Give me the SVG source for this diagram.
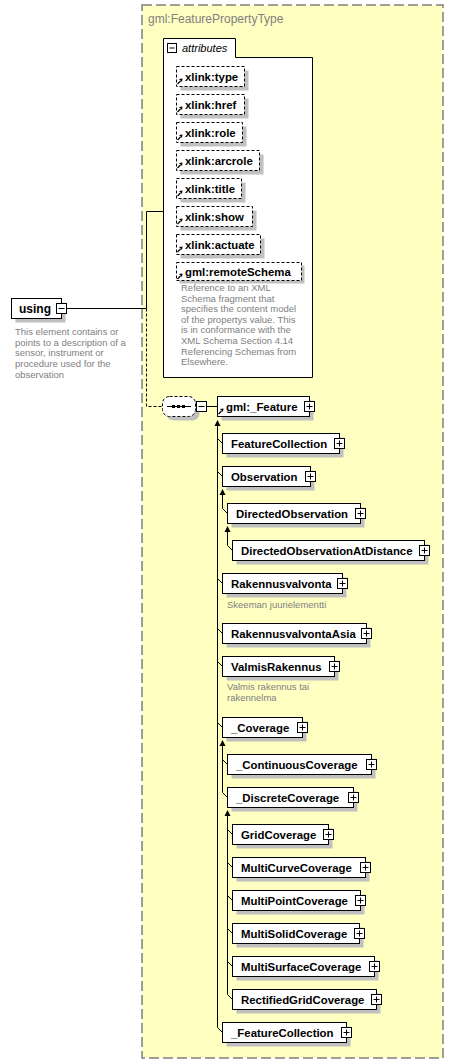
<svg xmlns="http://www.w3.org/2000/svg" xmlns:xlink="http://www.w3.org/1999/xlink" width="453" height="1064" viewBox="0 0 453 1064">
<style>
.node{fill:#fff;stroke:#000;stroke-width:1}
.attr{fill:#fff;stroke:#000;stroke-width:1;stroke-dasharray:3,2}
.shadow{fill:#c0c0c0}
.lbl{font-family:"Liberation Sans",Arial,sans-serif;font-size:11.4px;font-weight:bold;fill:#000}
.desc{font-family:"Liberation Sans",Arial,sans-serif;font-size:9.5px;fill:#808080}
.conn{stroke:#000;stroke-width:1;fill:none}
.dconn{stroke:#000;stroke-width:1;fill:none;stroke-dasharray:3,2}
</style>
<defs>
<g id="plus"><rect x="-5" y="-5" width="10" height="10" fill="#fff" stroke="#000"/><path d="M-3,0H3M0,-3V3" stroke="#000"/></g>
<g id="minus"><rect x="-5" y="-5" width="10" height="10" fill="#fff" stroke="#000"/><path d="M-3,0H3" stroke="#000"/></g>
<g id="ref"><path d="M0.5,5.5 L3.5,2.5" stroke="#000" stroke-width="1.2"/><path d="M2,0.5 L5.5,0 L5,3.5Z" fill="#000"/></g>
<path id="arr" d="M0,0 L3,6 L-3,6 Z" fill="#000"/>
</defs>

<g id="complexType">
<rect x="142" y="5" width="301" height="1053" fill="#FFFFC2" stroke="#808080" stroke-width="1.5" stroke-dasharray="10,4"/>
<text x="148" y="23" font-family="Liberation Sans,Arial,sans-serif" font-size="12" fill="#808080">gml:FeaturePropertyType</text>
</g>

<g id="attributes">
<path d="M163.5,38.5 H235.5 V57.5 H312.5 V377.5 H163.5 Z" fill="#fff" stroke="#000"/>
<rect x="167.5" y="43.5" width="9" height="9" fill="#fff" stroke="#000"/><path d="M169.5,48H174.5" stroke="#000"/>
<text x="182" y="52" font-family="Liberation Sans,Arial,sans-serif" font-size="11" font-style="italic" fill="#000">attributes</text>
</g>

<g id="attr-type"><rect class="shadow" x="180.5" y="70.5" width="68" height="20"/><rect class="attr" x="176.5" y="66.5" width="68" height="20"/><use href="#ref" x="177" y="78.5"/><text class="lbl" x="185" y="80.5">xlink:type</text></g>
<g id="attr-href"><rect class="shadow" x="180.5" y="98.5" width="68" height="20"/><rect class="attr" x="176.5" y="94.5" width="68" height="20"/><use href="#ref" x="177" y="106.5"/><text class="lbl" x="185" y="108.5">xlink:href</text></g>
<g id="attr-role"><rect class="shadow" x="180.5" y="126.5" width="66" height="20"/><rect class="attr" x="176.5" y="122.5" width="66" height="20"/><use href="#ref" x="177" y="134.5"/><text class="lbl" x="185" y="136.5">xlink:role</text></g>
<g id="attr-arcrole"><rect class="shadow" x="180.5" y="154.5" width="83" height="20"/><rect class="attr" x="176.5" y="150.5" width="83" height="20"/><use href="#ref" x="177" y="162.5"/><text class="lbl" x="185" y="164.5">xlink:arcrole</text></g>
<g id="attr-title"><rect class="shadow" x="180.5" y="182.5" width="65" height="20"/><rect class="attr" x="176.5" y="178.5" width="65" height="20"/><use href="#ref" x="177" y="190.5"/><text class="lbl" x="185" y="192.5">xlink:title</text></g>
<g id="attr-show"><rect class="shadow" x="180.5" y="210.5" width="76" height="20"/><rect class="attr" x="176.5" y="206.5" width="76" height="20"/><use href="#ref" x="177" y="218.5"/><text class="lbl" x="185" y="220.5">xlink:show</text></g>
<g id="attr-actuate"><rect class="shadow" x="180.5" y="238.5" width="84" height="20"/><rect class="attr" x="176.5" y="234.5" width="84" height="20"/><use href="#ref" x="177" y="246.5"/><text class="lbl" x="185" y="248.5">xlink:actuate</text></g>
<g id="attr-remoteSchema"><rect class="shadow" x="179.5" y="265.5" width="125" height="18"/><rect class="attr" x="176.5" y="262.5" width="125" height="18"/><use href="#ref" x="177" y="273.5"/><text class="lbl" x="185" y="276">gml:remoteSchema</text>
<text class="desc" x="181" y="291">Reference to an XML</text>
<text class="desc" x="181" y="301.6">Schema fragment that</text>
<text class="desc" x="181" y="312.2">specifies the content model</text>
<text class="desc" x="181" y="322.8">of the propertys value. This</text>
<text class="desc" x="181" y="333.4">is in conformance with the</text>
<text class="desc" x="181" y="344">XML Schema Section 4.14</text>
<text class="desc" x="181" y="354.6">Referencing Schemas from</text>
<text class="desc" x="181" y="365.2">Elsewhere.</text>
</g>

<g id="connectors">
<path class="conn" d="M66.5,308.5H146.5V211.5H163.5"/>
<path class="dconn" d="M146.5,308.5V406.5H162.5"/>
<path class="conn" d="M206.5,406.5H217.5"/>
<path class="conn" d="M217.5,424V1027.5L222.5,1032.5"/>
<use href="#arr" x="217.5" y="420"/>
<path class="conn" d="M217.5,438.5L222.5,443.5M217.5,471.5L222.5,476.5M217.5,578.5L222.5,583.5M217.5,628.5L222.5,633.5M217.5,661.5L222.5,666.5M217.5,722.5L222.5,727.5"/>
<path class="conn" d="M222.5,493V508.5L227.5,513.5"/>
<use href="#arr" x="222.5" y="489"/>
<path class="conn" d="M227.5,530V545.5L232.5,550.5"/>
<use href="#arr" x="227.5" y="526"/>
<path class="conn" d="M222.5,744V792.5L227.5,797.5M222.5,759.5L227.5,764.5"/>
<use href="#arr" x="222.5" y="740"/>
<path class="conn" d="M227.5,814V994.5L232.5,999.5M227.5,829.5L232.5,834.5M227.5,862.5L232.5,867.5M227.5,895.5L232.5,900.5M227.5,928.5L232.5,933.5M227.5,961.5L232.5,966.5"/>
<use href="#arr" x="227.5" y="810"/>
</g>

<g id="using">
<rect class="shadow" x="15.5" y="302.5" width="50" height="20"/>
<rect class="node" x="11.5" y="298.5" width="50" height="20"/>
<text class="lbl" x="19" y="312.5" style="font-size:12px">using</text>
<use href="#minus" x="61.5" y="308.5"/>
<text class="desc" x="15" y="335">This element contains or</text>
<text class="desc" x="15" y="345.7">points to a description of a</text>
<text class="desc" x="15" y="356.4">sensor, instrument or</text>
<text class="desc" x="15" y="367.1">procedure used for the</text>
<text class="desc" x="15" y="377.8">observation</text>
</g>

<g id="sequence">
<rect class="shadow" x="166.5" y="400.5" width="33" height="20" rx="7"/>
<rect x="162.5" y="396.5" width="33" height="20" rx="7" fill="#fff" stroke="#000" stroke-dasharray="3,2"/>
<path d="M167,406.5H191" stroke="#000"/>
<rect x="172" y="405" width="3" height="3" fill="#000"/><rect x="177" y="405" width="3" height="3" fill="#000"/><rect x="182" y="405" width="3" height="3" fill="#000"/>
<use href="#minus" x="201.5" y="406.5"/>
</g>

<g id="gml_Feature"><rect class="shadow" x="221.5" y="400.5" width="92" height="20"/><rect class="node" x="217.5" y="396.5" width="92" height="20"/><use href="#ref" x="218" y="408.5"/><text class="lbl" x="226" y="410.5">gml:_Feature</text><use href="#plus" x="309.5" y="406.5"/></g>
<g id="FeatureCollection"><rect class="shadow" x="226.5" y="437.5" width="117" height="20"/><rect class="node" x="222.5" y="433.5" width="117" height="20"/><text class="lbl" x="231" y="447.5">FeatureCollection</text><use href="#plus" x="339.5" y="443.5"/></g>
<g id="Observation"><rect class="shadow" x="226.5" y="470.5" width="88" height="20"/><rect class="node" x="222.5" y="466.5" width="88" height="20"/><text class="lbl" x="231" y="480.5">Observation</text><use href="#plus" x="310.5" y="476.5"/></g>
<g id="DirectedObservation"><rect class="shadow" x="231.5" y="507.5" width="133" height="20"/><rect class="node" x="227.5" y="503.5" width="133" height="20"/><text class="lbl" x="236" y="517.5">DirectedObservation</text><use href="#plus" x="360.5" y="513.5"/></g>
<g id="DirectedObservationAtDistance"><rect class="shadow" x="236.5" y="544.5" width="192" height="20"/><rect class="node" x="232.5" y="540.5" width="192" height="20"/><text class="lbl" x="241" y="554.5">DirectedObservationAtDistance</text><use href="#plus" x="424.5" y="550.5"/></g>
<g id="Rakennusvalvonta"><rect class="shadow" x="226.5" y="577.5" width="120" height="20"/><rect class="node" x="222.5" y="573.5" width="120" height="20"/><text class="lbl" x="231" y="587.5">Rakennusvalvonta</text><use href="#plus" x="342.5" y="583.5"/><text class="desc" x="227" y="608">Skeeman juurielementti</text></g>
<g id="RakennusvalvontaAsia"><rect class="shadow" x="226.5" y="627.5" width="144" height="20"/><rect class="node" x="222.5" y="623.5" width="144" height="20"/><text class="lbl" x="231" y="637.5">RakennusvalvontaAsia</text><use href="#plus" x="366.5" y="633.5"/></g>
<g id="ValmisRakennus"><rect class="shadow" x="226.5" y="660.5" width="112" height="20"/><rect class="node" x="222.5" y="656.5" width="112" height="20"/><text class="lbl" x="231" y="670.5">ValmisRakennus</text><use href="#plus" x="334.5" y="666.5"/><text class="desc" x="227" y="690">Valmis rakennus tai</text><text class="desc" x="227" y="700.7">rakennelma</text></g>
<g id="_Coverage"><rect class="shadow" x="226.5" y="721.5" width="80" height="20"/><rect class="node" x="222.5" y="717.5" width="80" height="20"/><text class="lbl" x="231" y="731.5">_Coverage</text><use href="#plus" x="302.5" y="727.5"/></g>
<g id="_ContinuousCoverage"><rect class="shadow" x="231.5" y="758.5" width="144" height="20"/><rect class="node" x="227.5" y="754.5" width="144" height="20"/><text class="lbl" x="236" y="768.5">_ContinuousCoverage</text><use href="#plus" x="371.5" y="764.5"/></g>
<g id="_DiscreteCoverage"><rect class="shadow" x="231.5" y="791.5" width="126" height="20"/><rect class="node" x="227.5" y="787.5" width="126" height="20"/><text class="lbl" x="236" y="801.5">_DiscreteCoverage</text><use href="#plus" x="353.5" y="797.5"/></g>
<g id="GridCoverage"><rect class="shadow" x="236.5" y="828.5" width="96" height="20"/><rect class="node" x="232.5" y="824.5" width="96" height="20"/><text class="lbl" x="241" y="838.5">GridCoverage</text><use href="#plus" x="328.5" y="834.5"/></g>
<g id="MultiCurveCoverage"><rect class="shadow" x="236.5" y="861.5" width="133" height="20"/><rect class="node" x="232.5" y="857.5" width="133" height="20"/><text class="lbl" x="241" y="871.5">MultiCurveCoverage</text><use href="#plus" x="365.5" y="867.5"/></g>
<g id="MultiPointCoverage"><rect class="shadow" x="236.5" y="894.5" width="128" height="20"/><rect class="node" x="232.5" y="890.5" width="128" height="20"/><text class="lbl" x="241" y="904.5">MultiPointCoverage</text><use href="#plus" x="360.5" y="900.5"/></g>
<g id="MultiSolidCoverage"><rect class="shadow" x="236.5" y="927.5" width="127" height="20"/><rect class="node" x="232.5" y="923.5" width="127" height="20"/><text class="lbl" x="241" y="937.5">MultiSolidCoverage</text><use href="#plus" x="359.5" y="933.5"/></g>
<g id="MultiSurfaceCoverage"><rect class="shadow" x="236.5" y="960.5" width="142" height="20"/><rect class="node" x="232.5" y="956.5" width="142" height="20"/><text class="lbl" x="241" y="970.5">MultiSurfaceCoverage</text><use href="#plus" x="374.5" y="966.5"/></g>
<g id="RectifiedGridCoverage"><rect class="shadow" x="236.5" y="993.5" width="144" height="20"/><rect class="node" x="232.5" y="989.5" width="144" height="20"/><text class="lbl" x="241" y="1003.5">RectifiedGridCoverage</text><use href="#plus" x="376.5" y="999.5"/></g>
<g id="_FeatureCollection"><rect class="shadow" x="226.5" y="1026.5" width="124" height="20"/><rect class="node" x="222.5" y="1022.5" width="124" height="20"/><text class="lbl" x="231" y="1036.5">_FeatureCollection</text><use href="#plus" x="346.5" y="1032.5"/></g>
</svg>
